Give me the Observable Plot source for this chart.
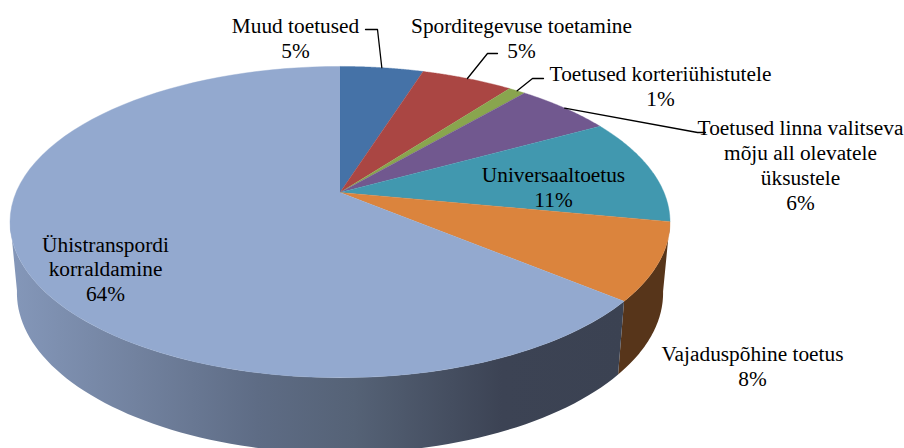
<!DOCTYPE html>
<html><head><meta charset="utf-8">
<style>html,body{margin:0;padding:0;background:#fff}svg{display:block}</style>
<script src="https://cdn.jsdelivr.net/npm/d3@7"></script>
<script src="https://cdn.jsdelivr.net/npm/@observablehq/plot@0.6"></script>
</head><body>
<div id="chart"></div>
<script>
// Data
const categories = ["Muud toetused","Sporditegevuse toetamine","Toetused korteriühistutele","Toetused linna valitseva\nmõju all olevatele\nüksustele","Universaaltoetus","Vajaduspõhine toetus","Ühistranspordi\nkorraldamine"];
const shares = [4.9,5.4,1.0,5.7,11.0,8.0,64.0];
const colors = ["#4572A7","#AA4643","#89A54E","#71588F","#4198AF","#DB843D","#93A9CF"];

// Layout (pixel space of the picture)
const labelX = [295,521,660,800,553,752,105];
const labelY = [37,37,85,164,186,365,268];
const leaderVia = [[[377,29],[365,29]],[[487,53],[497,53]],[[532,78],[543,78]],[[697,132],[705,132]],null,null,null];
const cx=339.5, cy=192, a=324, b=150, k=0.19, cyB=262, sx=0.979, sy=1.03, wallBrown="#57351A";

const rad = p => p*3.6*Math.PI/180;
const top3d = t => { const X=Math.sin(t), Y=-Math.cos(t), w=1-k*Y; return [cx+a*X/w, cy+b*Y/w]; };
const bot3d = t => { const [x,y]=top3d(t); return [cx+sx*(x-cx), cyB+sy*(y-cy)]; };
const arc = (f,p0,p1,n=80)=>d3.range(n+1).map(i=>f(rad(p0+(p1-p0)*i/n)));

const cum = d3.cumsum(shares);
const start = i => i?cum[i-1]:0;
const slices = categories.flatMap((name,i)=>{
  const pts=[[cx,cy],...arc(top3d,start(i),cum[i])];
  return pts.map(([x,y])=>({name,x,y}));
});
const blueI=6;
const wallPoly=(p0,p1)=>[...arc(top3d,p0,p1),...arc(bot3d,p0,p1).reverse()].map(([x,y])=>({x,y}));
const wallOrange = wallPoly(27.9,start(blueI));
const wallBlue = wallPoly(start(blueI),72.2);

const leaders = categories.flatMap((name,i)=>{
  if(!leaderVia[i]) return [];
  const m=(start(i)+cum[i])/2;
  return [top3d(rad(m)),...leaderVia[i]].map(([x,y])=>({name,x,y}));
});
const labels = categories.map((c,i)=>({text:`${c}\n${Math.round(shares[i])}%`,x:labelX[i],y:labelY[i]}));

const defs = ()=>{
  const d=d3.create("svg:defs");
  const g=d.append("linearGradient").attr("id","wall").attr("gradientUnits","userSpaceOnUse")
    .attr("x1",12).attr("x2",624).attr("y1",0).attr("y2",0);
  [[0,"#8497B9"],[.2,"#72829F"],[.4,"#5E6C85"],[.56,"#556276"],[.8,"#3C4354"],[1,"#3B4252"]]
    .forEach(([o,c])=>g.append("stop").attr("offset",o).attr("stop-color",c));
  return d.node();
};

const chart = Plot.plot({
  width:904,height:448,margin:0,
  style:{background:"#fff",fontFamily:"'Liberation Serif',serif"},
  x:{domain:[0,904],range:[0,904],axis:null},
  y:{domain:[0,448],range:[0,448],axis:null},
  color:{domain:categories,range:colors},
  marks:[
    defs,
    Plot.line(wallOrange,{x:"x",y:"y",fill:wallBrown,stroke:"none"}),
    Plot.line(wallBlue,{x:"x",y:"y",fill:"url(#wall)",stroke:"none"}),
    Plot.line(slices,{x:"x",y:"y",z:"name",fill:"name",stroke:"name",strokeWidth:0.4}),
    Plot.line(leaders,{x:"x",y:"y",z:"name",stroke:"#000",strokeWidth:1.3}),
    Plot.text(labels,{x:"x",y:"y",text:"text",fontSize:21.33,lineHeight:1.16,fill:"#000",textAnchor:"middle"})
  ]
});
document.getElementById("chart").append(chart);
</script>
</body></html>
